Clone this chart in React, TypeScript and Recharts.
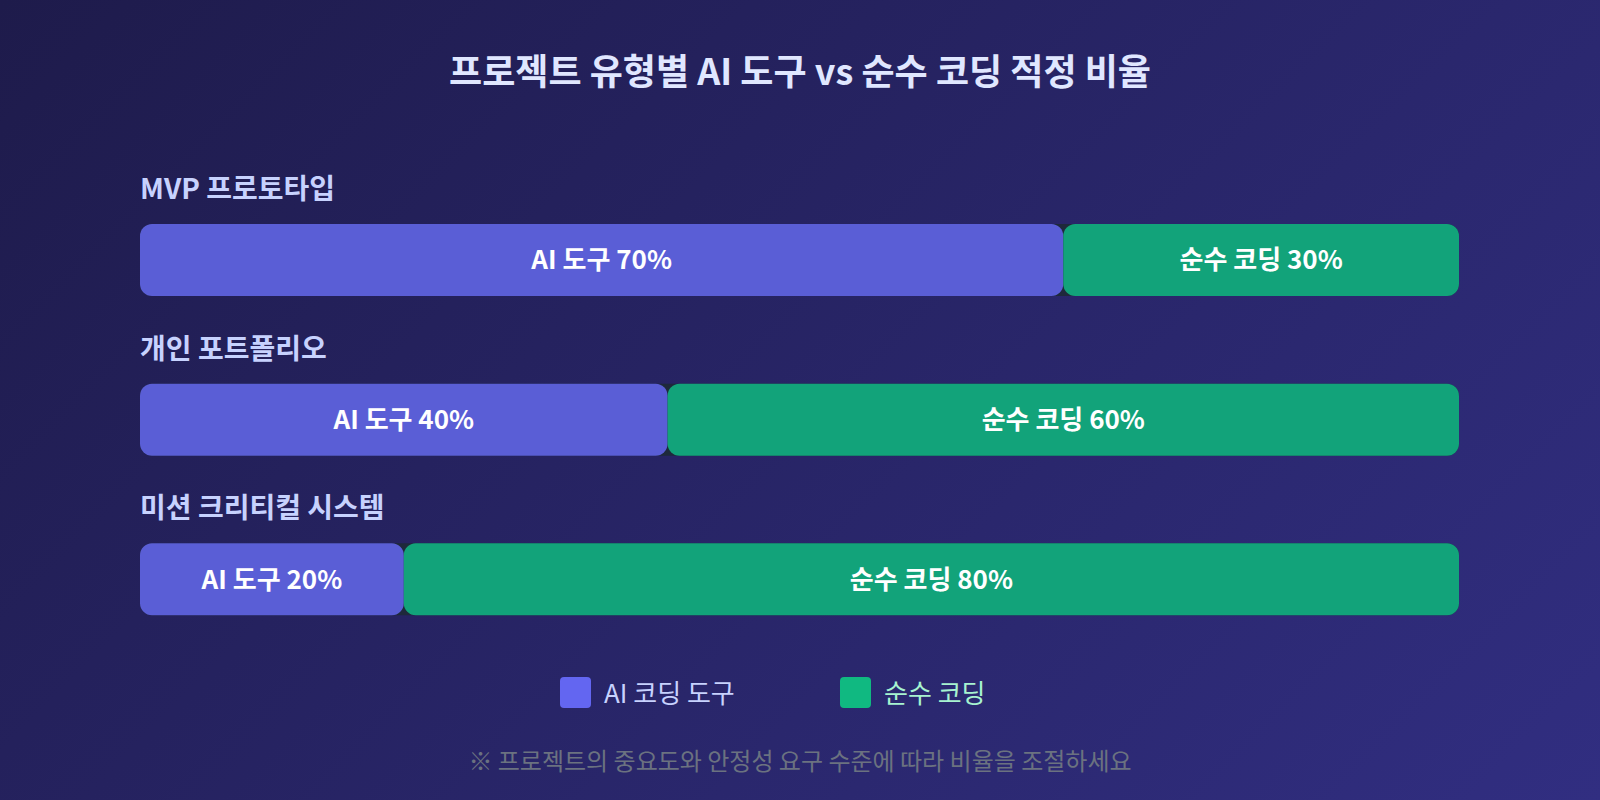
import React from 'react';
import { BarChart, Bar, XAxis, YAxis, LabelList } from 'recharts';

// project types and split of AI tools vs hand coding (%)
const categories = ['MVP 프로토타입', '개인 포트폴리오', '미션 크리티컬 시스템'];
const aiShare = [70, 40, 20];
const codingShare = [30, 60, 80];

const data = categories.map((name, i) => ({ name, ai: aiShare[i], coding: codingShare[i] }));

const FONT = '"Noto Sans CJK KR", "Noto Sans", sans-serif';

const renderCategory = (props: any) => {
  const { x, y, value } = props;
  return (
    <text x={x} y={y - 25} fill="#c7d2fe" fontSize={28} fontWeight={700} fontFamily={FONT}>
      {value}
    </text>
  );
};

const App: React.FC = () => {
  return (
    <div
      style={{
        position: 'absolute',
        left: 0,
        top: 0,
        width: 1600,
        height: 800,
        background: 'linear-gradient(135deg, #1e1b4b 0%, #312e81 100%)',
        fontFamily: FONT,
        overflow: 'hidden',
      }}
    >
      <div
        style={{
          position: 'absolute',
          top: 45,
          width: '100%',
          textAlign: 'center',
          color: '#e0e7ff',
          fontSize: 36,
          fontWeight: 700,
          lineHeight: '48px',
        }}
      >
        프로젝트 유형별 AI 도구 vs 순수 코딩 적정 비율
      </div>

      <div style={{ position: 'absolute', left: 0, top: 0 }}>
        <BarChart
          width={1600}
          height={800}
          data={data}
          layout="vertical"
          margin={{ top: 180, right: 141, bottom: 141, left: 140 }}
        >
          <XAxis type="number" domain={[0, 100]} hide />
          <YAxis type="category" dataKey="name" hide />
          <Bar
            dataKey="ai"
            stackId="a"
            fill="#5a5ed6"
            barSize={72}
            radius={12}
            background={{ fill: '#1e293b', radius: 12 }}
            isAnimationActive={false}
          >
            <LabelList dataKey="name" content={renderCategory} />
            <LabelList
              dataKey="ai"
              position="center"
              formatter={(v: any) => `AI 도구 ${v}%`}
              fill="#ffffff"
              fontSize={26}
              fontWeight={700}
              fontFamily={FONT}
            />
          </Bar>
          <Bar dataKey="coding" stackId="a" fill="#12a37a" barSize={72} radius={12} isAnimationActive={false}>
            <LabelList
              dataKey="coding"
              position="center"
              formatter={(v: any) => `순수 코딩 ${v}%`}
              fill="#ffffff"
              fontSize={26}
              fontWeight={700}
              fontFamily={FONT}
            />
          </Bar>
        </BarChart>
      </div>

      {/* legend */}
      <div
        style={{
          position: 'absolute',
          top: 675,
          left: 560,
          display: 'flex',
          alignItems: 'center',
          fontSize: 26,
          lineHeight: '34px',
        }}
      >
        <div style={{ width: 31, height: 31, borderRadius: 4, background: '#6366f1', marginRight: 13 }} />
        <span style={{ color: '#c7d2fe', width: 236 }}>AI 코딩 도구</span>
        <div style={{ width: 31, height: 31, borderRadius: 4, background: '#10b981', marginRight: 13 }} />
        <span style={{ color: '#a7f3d0' }}>순수 코딩</span>
      </div>

      <div
        style={{
          position: 'absolute',
          top: 744,
          width: '100%',
          textAlign: 'center',
          color: '#6b7280',
          fontSize: 24,
          lineHeight: '32px',
        }}
      >
        ※ 프로젝트의 중요도와 안정성 요구 수준에 따라 비율을 조절하세요
      </div>
    </div>
  );
};

export default App;
